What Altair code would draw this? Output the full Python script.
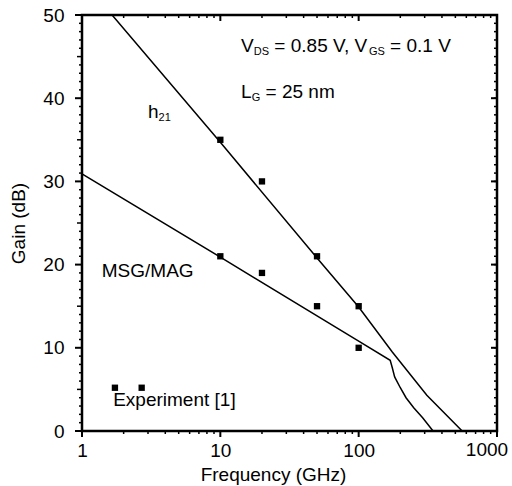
import altair as alt
import pandas as pd

# ---- data ----
h21_freq = [1.65, 10, 50, 100, 175, 311, 560]
h21_gain = [50.0, 34.7, 20.8, 14.9, 9.5, 4.3, 0.0]
msg_freq = [1, 10, 100, 169, 175, 182, 200, 220, 250, 290, 345]
msg_gain = [30.9, 20.9, 10.8, 8.5, 7.6, 6.5, 5.2, 4.0, 2.8, 1.6, 0.0]
exp_freq = [10, 20, 50, 100, 10, 20, 50, 100]
exp_gain = [35, 30, 21, 15, 21, 19, 15, 10]
legend_freq = [1.73, 2.70]
legend_gain = [5.2, 5.2]

main_text = ["V", "= 0.85 V, V", "= 0.1 V", "L", "= 25 nm", "h", "MSG/MAG", "Experiment [1]"]
main_freq = [14.12, 24.58, 168.7, 14.12, 21.23, 3.0, 1.39, 1.68]
main_gain = [45.55, 45.55, 45.55, 40.02, 40.02, 37.62, 18.5, 3.0]
sub_text = ["DS", "GS", "G", "21"]
sub_freq = [17.44, 118.6, 16.84, 3.58]
sub_gain = [45.19, 45.19, 39.66, 37.26]

# axis range, tick positions and tick labels
x_range = [1, 1000]
y_range = [0, 50]
x_major = [1, 10, 100, 1000]
x_axis_labels = [1, 10, 100]
x_end_label = ["1000"]
x_end_label_pos = [1000]
x_inner_major = [10, 100]
x_minor = [2, 3, 4, 5, 6, 7, 8, 9, 20, 30, 40, 50, 60, 70, 80, 90,
           200, 300, 400, 500, 600, 700, 800, 900]
y_major = [0, 10, 20, 30, 40, 50]
y_inner_major = [10, 20, 30, 40]
y_mid = [5, 15, 25, 35, 45]
y_minor = [v for v in range(1, 50) if v % 5 != 0]
y_all = list(range(1, 50))

FONT = "Liberation Sans"
INK = "black"

lines_df = pd.DataFrame({
    "f": h21_freq + msg_freq,
    "g": h21_gain + msg_gain,
    "s": ["h21"] * len(h21_freq) + ["msg"] * len(msg_freq),
})
exp_df = pd.DataFrame({"f": exp_freq, "g": exp_gain})
leg_df = pd.DataFrame({"f": legend_freq, "g": legend_gain})
main_df = pd.DataFrame({"f": main_freq, "g": main_gain, "t": main_text})
sub_df = pd.DataFrame({"f": sub_freq, "g": sub_gain, "t": sub_text})
end_df = pd.DataFrame({"f": x_end_label_pos, "g": [0], "t": x_end_label})

xs = alt.Scale(type="log", domain=x_range)
ys = alt.Scale(domain=y_range, nice=False, zero=False)


def enc(xaxis=None, yaxis=None):
    return dict(x=alt.X("f:Q", scale=xs, axis=xaxis),
                y=alt.Y("g:Q", scale=ys, axis=yaxis))


x_main_axis = alt.Axis(orient="bottom", values=x_axis_labels, format="d", ticks=False, tickSize=0,
                       domain=False, grid=False,
                       labelFont=FONT, labelFontSize=19, labelColor="black", labelPadding=10,
                       labelFlush=False, labelOverlap=False,
                       title="Frequency (GHz)", titleFont=FONT, titleFontSize=19,
                       titleFontWeight="normal", titleColor="black", titlePadding=5, titleX=191)
y_main_axis = alt.Axis(orient="left", values=y_major, ticks=False, tickSize=0,
                       domain=False, grid=False,
                       labelFont=FONT, labelFontSize=19, labelColor="black", labelPadding=18,
                       labelFlush=False, labelOverlap=False,
                       title="Gain (dB)", titleFont=FONT, titleFontSize=19,
                       titleFontWeight="normal", titleColor="black", titlePadding=14)

lines = alt.Chart(lines_df).mark_line(color="black", strokeWidth=1.5, clip=True).encode(
    detail="s:N", **enc(x_main_axis, y_main_axis))

points = alt.Chart(exp_df).mark_square(color="black", size=40, opacity=1).encode(**enc())
legend_pts = alt.Chart(leg_df).mark_square(color="black", size=40, opacity=1).encode(**enc())

main_txt = alt.Chart(main_df).mark_text(font=FONT, fontSize=19, align="left",
                                        baseline="alphabetic", color="black").encode(
    text="t:N", **enc())
sub_txt = alt.Chart(sub_df).mark_text(font=FONT, fontSize=11, align="left",
                                      baseline="alphabetic", color="black").encode(
    text="t:N", **enc())
end_txt = alt.Chart(end_df).mark_text(font=FONT, fontSize=19, align="center", baseline="top",
                                      dx=-10, dy=10, color="black").encode(text="t:N", **enc())


def ticks(fvals, gvals, orient, size, thick, xoff=0.0, yoff=0.0):
    df = pd.DataFrame({"f": fvals, "g": gvals})
    return alt.Chart(df).mark_tick(color=INK, orient=orient, size=size, thickness=thick,
                                   xOffset=xoff, yOffset=yoff, opacity=1).encode(**enc())


tick_layers = [
    # bottom (outward)
    ticks(x_major, [0] * len(x_major), "vertical", 6, 2, yoff=3),
    ticks(x_minor, [0] * len(x_minor), "vertical", 3, 1.5, yoff=1.5),
    # left (outward)
    ticks([1] * len(y_major), y_major, "horizontal", 7, 2, xoff=-3.5),
    ticks([1] * len(y_mid), y_mid, "horizontal", 5, 1.5, xoff=-2.5),
    ticks([1] * len(y_minor), y_minor, "horizontal", 3, 1.5, xoff=-1.5),
    # top (inward)
    ticks(x_inner_major, [50] * len(x_inner_major), "vertical", 6, 2, yoff=3),
    ticks(x_minor, [50] * len(x_minor), "vertical", 3, 1.5, yoff=1.5),
    # right (inward)
    ticks([1000] * len(y_inner_major), y_inner_major, "horizontal", 6, 2, xoff=-3),
    ticks([1000] * len(y_all), y_all, "horizontal", 3, 1.5, xoff=-1.5),
]

chart = alt.layer(lines, points, legend_pts, main_txt, sub_txt, end_txt, *tick_layers).resolve_axis(
    x="independent", y="independent"
).properties(
    width=415, height=416,
    autosize=alt.AutoSizeParams(type="none"),
    padding={"left": 82, "top": 15, "right": 15, "bottom": 55},
).configure_view(stroke=INK, strokeWidth=2.5)

chart.save("out.html", embed_options={"renderer": "svg", "actions": False})
